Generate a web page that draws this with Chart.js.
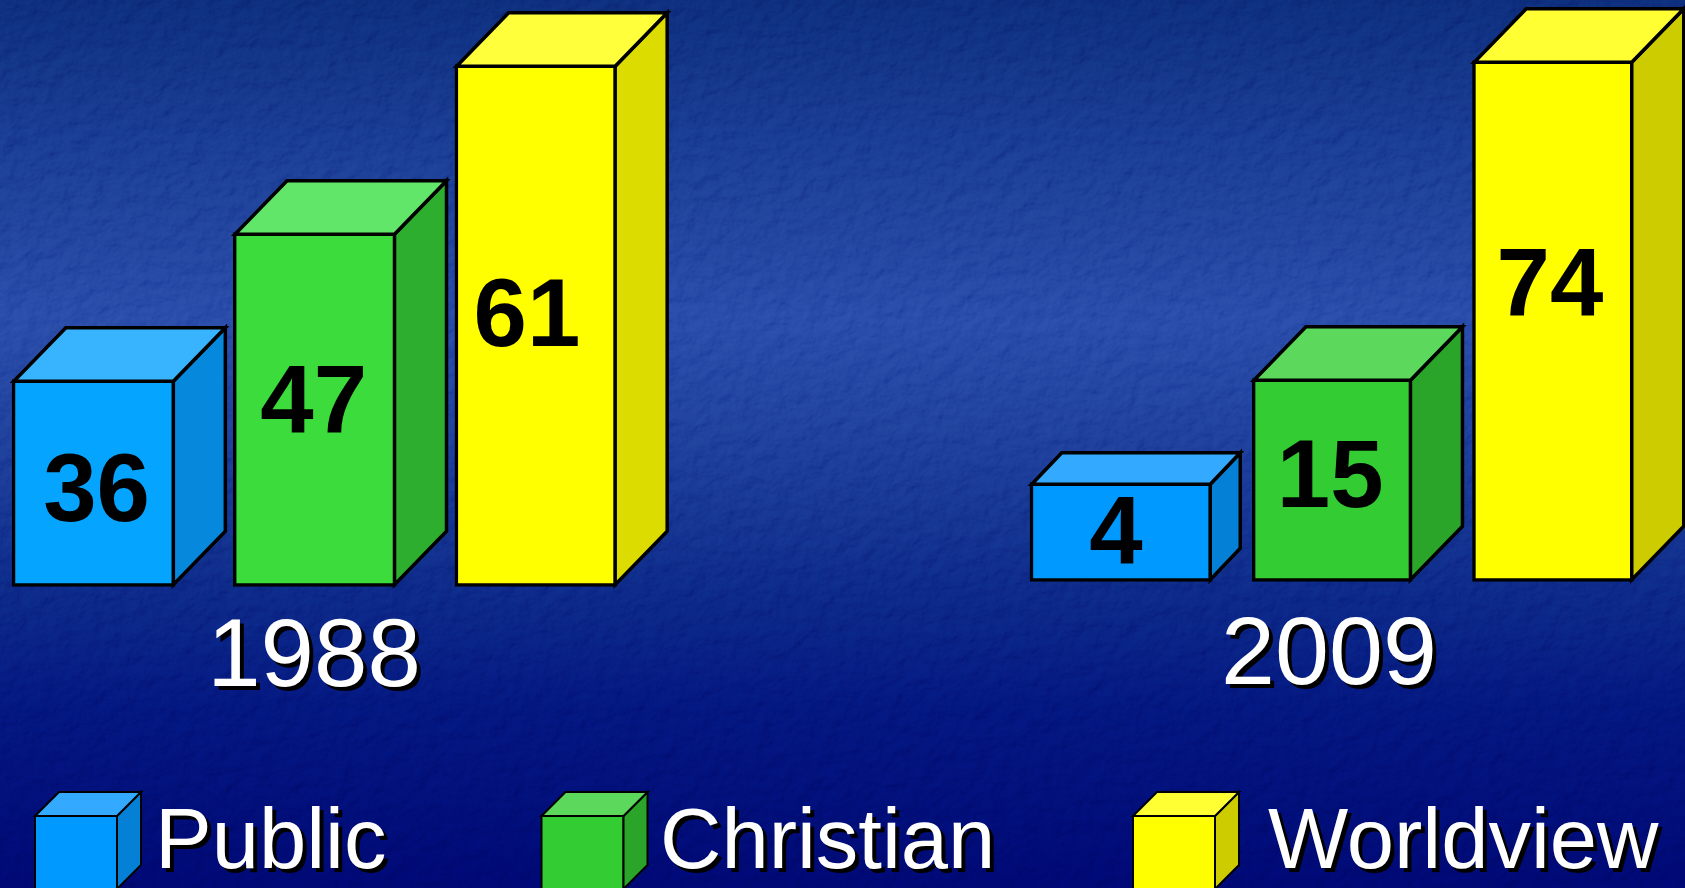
<!DOCTYPE html>
<html lang="en">
<head>
<meta charset="UTF-8">
<title>Public, Christian, Worldview 1988 and 2009</title>
<script src="https://cdn.jsdelivr.net/npm/chart.js"></script>
<style>
  html, body { margin: 0; padding: 0; width: 1685px; height: 888px; overflow: hidden; }
  body {
    position: relative;
    background: linear-gradient(180deg, #08206f 0%, #102c86 15%, #1c3c9f 36%, #153292 48%, #081d7c 66%, #020e72 80%, #000566 100%);
  }
  #texture { position: absolute; left: 0; top: 0; mix-blend-mode: soft-light; opacity: 0.35; }
  canvas { position: absolute; top: 0; }
  #chart1988 { left: -17px; }
  #chart2009 { left: 1001px; }
</style>
</head>
<body>
<svg id="texture" width="1685" height="888">
  <filter id="grain" x="0" y="0" width="100%" height="100%">
    <feTurbulence type="fractalNoise" baseFrequency="0.06 0.07" numOctaves="4" seed="8"/>
    <feDiffuseLighting surfaceScale="3" lighting-color="#ffffff">
      <feDistantLight azimuth="225" elevation="50"/>
    </feDiffuseLighting>
  </filter>
  <rect width="1685" height="888" filter="url(#grain)"/>
</svg>
<canvas id="chart1988" width="1702" height="888"></canvas>
<canvas id="chart2009" width="684" height="888"></canvas>

<script>
const seriesNames = ['Public', 'Christian', 'Worldview'];

// numbers printed on the boxes
const values1988 = [36, 47, 61];
const values2009 = [4, 15, 74];

// the boxes in the picture are not in proportion to the printed numbers,
// so the drawn heights are read off separately
const heights1988 = [207, 354, 522];
const heights2009 = [99, 203, 521];

const font = '"Liberation Sans", Arial, sans-serif';
const lineW = 3.5;

// front, side, top
const colors1988 = [['#05a5ff', '#0688dc', '#38b4ff'], ['#3cdc3c', '#2eae2e', '#62e66a'], ['#ffff00', '#dcdc00', '#ffff3c']];
const colors2009 = [['#0099ff', '#0480d6', '#33aaff'], ['#33cc33', '#2aa52a', '#5cd85c'], ['#ffff00', '#cccc00', '#ffff33']];

function drawFaces(ctx, x, top, w, h, dx, dy, cols, lw) {
    const l = x - w / 2, r = x + w / 2;
    ctx.save();
    ctx.lineWidth = lw;
    ctx.strokeStyle = '#000';
    ctx.lineJoin = 'miter';
    // side
    ctx.fillStyle = cols[1];
    ctx.beginPath();
    ctx.moveTo(r, top);
    ctx.lineTo(r + dx, top - dy);
    ctx.lineTo(r + dx, top + h - dy);
    ctx.lineTo(r, top + h);
    ctx.closePath();
    ctx.fill();
    ctx.stroke();
    // top
    ctx.fillStyle = cols[2];
    ctx.beginPath();
    ctx.moveTo(l, top);
    ctx.lineTo(l + dx, top - dy);
    ctx.lineTo(r + dx, top - dy);
    ctx.lineTo(r, top);
    ctx.closePath();
    ctx.fill();
    ctx.stroke();
    ctx.restore();
}

function shadowText(ctx, text, x, y, size, off, align) {
    ctx.save();
    ctx.font = size + 'px ' + font;
    ctx.textAlign = align;
    ctx.textBaseline = 'alphabetic';
    ctx.fillStyle = '#000';
    ctx.fillText(text, x + off, y + off);
    ctx.fillStyle = '#fff';
    ctx.fillText(text, x, y);
    ctx.restore();
}

const boxes = {
    id: 'boxes',
    beforeDatasetsDraw(chart, args, opts) {
        // nudges a box sideways from the middle of its slot
        chart.data.datasets.forEach((ds, i) => {
            chart.getDatasetMeta(i).data.forEach(el => {
                if (!el.skip && opts.nudge[i]) el.x += opts.nudge[i];
            });
        });
    },
    afterDatasetsDraw(chart, args, opts) {
        const ctx = chart.ctx;
        chart.data.datasets.forEach((ds, i) => {
            const el = chart.getDatasetMeta(i).data[i];
            const h = el.base - el.y;
            const d = opts.depth[i];
            drawFaces(ctx, el.x, el.y + lineW / 2, ds.barThickness - lineW, h - lineW, d, d + 1.5, opts.colors[i], lineW);
            ctx.save();
            ctx.font = 'bold 96px ' + font;
            ctx.textAlign = 'center';
            ctx.textBaseline = 'alphabetic';
            ctx.fillStyle = '#000';
            ctx.fillText(opts.values[i], el.x + opts.labelDx[i], el.y + h / 2 + opts.labelDy[i] + 34);
            ctx.restore();
        });
        shadowText(ctx, opts.year, opts.yearX, opts.yearY, opts.yearSize, 4, 'center');
    }
};

const legendBoxes = {
    id: 'legendBoxes',
    afterDraw(chart, args, opts) {
        const ctx = chart.ctx;
        seriesNames.forEach((name, i) => {
            const x = opts.boxX[i] + opts.shift;
            const w = 82;
            ctx.save();
            ctx.fillStyle = colors2009[i][0];
            ctx.strokeStyle = '#000';
            ctx.lineWidth = 2;
            ctx.fillRect(x - w / 2, 816, w, 80);
            ctx.strokeRect(x - w / 2, 816, w, 80);
            ctx.restore();
            drawFaces(ctx, x, 816, w, 73, 24, 24, colors2009[i], 2);
            shadowText(ctx, name, opts.textX[i] + opts.shift, 868, 85, 4, 'left');
        });
    }
};

function makeChart(id, heights, base, padRight, widths, extra) {
    return new Chart(document.getElementById(id).getContext('2d'), {
        type: 'bar',
        data: {
            labels: seriesNames,
            datasets: seriesNames.map((name, i) => ({
                label: name,
                data: heights.map((h, j) => (j === i ? h : null)),
                backgroundColor: extra.colors[i][0],
                borderColor: '#000',
                borderWidth: lineW,
                borderSkipped: false,
                barThickness: widths[i],
                grouped: false,
                clip: false
            }))
        },
        options: {
            responsive: false,
            animation: false,
            layout: { padding: { left: 0, top: 0, right: padRight, bottom: 888 - base } },
            scales: {
                x: { display: false, grid: { display: false } },
                y: { display: false, min: 0, max: base, grid: { display: false } }
            },
            plugins: {
                legend: { display: false },
                tooltip: { enabled: false },
                boxes: extra,
                legendBoxes: extra.legend || false
            }
        },
        plugins: extra.legend ? [boxes, legendBoxes] : [boxes]
    });
}

makeChart('chart1988', heights1988, 586.5, 1038.5, [163, 163, 162], {
    values: values1988,
    colors: colors1988,
    depth: [52, 52, 52],
    nudge: [0, 0, 0],
    labelDx: [3, -1, -9],
    labelDy: [4, -11, -14],
    year: '1988',
    yearSize: 96,
    yearX: 331,
    yearY: 686,
    legend: { shift: 17, boxX: [76, 582.5, 1174], textX: [155, 660, 1268] }
});

makeChart('chart2009', heights2009, 581.5, 21.6, [182, 160, 161], {
    values: values2009,
    colors: colors2009,
    depth: [30, 52, 52],
    nudge: [9.6, 0, 0],
    labelDx: [-5, -2, -3],
    labelDy: [-2, -7, -39],
    year: '2009',
    yearSize: 97,
    yearX: 328,
    yearY: 684
});
</script>
</body>
</html>
